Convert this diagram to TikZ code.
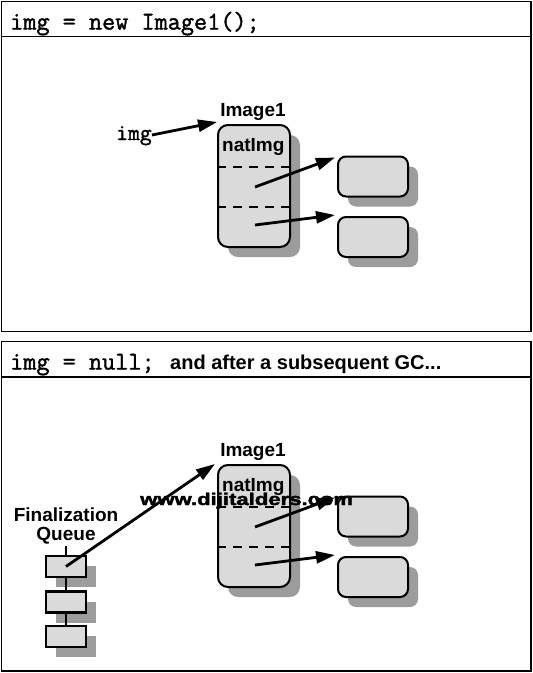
\documentclass[tikz,border=0pt]{standalone}
\usepackage{fontspec}
\setmainfont{Liberation Sans}
\newfontfamily\monof[FakeBold=1.6]{Latin Modern Mono}
\newfontfamily\markf[FakeBold=2]{Liberation Sans Bold}
\usetikzlibrary{arrows.meta,shadows,calc}
\definecolor{boxgray}{HTML}{DADADA}
\definecolor{shadegray}{HTML}{9C9C9C}
\begin{document}
\begin{tikzpicture}[x=1pt,y=-1pt,
  panel/.style={draw=black,line width=1.4pt},
  objbox/.style={draw=black,line width=2pt,fill=boxgray,rounded corners=10pt,
    drop shadow={shadow xshift=10pt,shadow yshift=-10pt,fill=shadegray,opacity=1}},
  smallbox/.style={objbox,rounded corners=8pt,minimum width=70pt,minimum height=40pt},
  qbox/.style={draw=black,line width=2.6pt,fill=boxgray,minimum width=40pt,minimum height=21pt,
    drop shadow={shadow xshift=10pt,shadow yshift=-10pt,fill=shadegray,opacity=1}},
  ptr/.style={line width=2.8pt,-{Triangle[length=19pt,width=12pt]}},
  divider/.style={line width=1.6pt,dash pattern=on 9pt off 7pt},
  codetxt/.style={font=\monof\fontsize{25.5}{27}\selectfont,inner sep=0pt,anchor=base west},
  lbl/.style={font=\bfseries\fontsize{19}{21}\selectfont,inner sep=0pt}
]
\useasboundingbox (0,0) rectangle (533,673);
% ---------- panel 1 ----------
\draw[panel] (1.5,1.5) rectangle (531,331.5);
\draw[panel] (1.5,36.5) -- (531,36.5);
\node[codetxt] (h1) at (10,29.5) {img = new Image1();};

\node[objbox,minimum width=72pt,minimum height=122pt] (obj1) at (254,186) {};
\node[smallbox] (b1) at (373,176.5) {};
\node[smallbox] (b2) at (373,237) {};
\draw[divider] (obj1.west |- 0,167) -- (obj1.east |- 0,167);
\draw[divider] (obj1.west |- 0,207) -- (obj1.east |- 0,207);
\node[lbl,anchor=base] (t1) at (253,116.5) {Image1};
\node[lbl,anchor=base west] (n1) at (222,151.5) {natImg};
\node[font=\monof\fontsize{23}{24}\selectfont,inner sep=0pt,anchor=base west] (img1) at (116,140) {img};

\coordinate (s1) at (255,187);
\coordinate (s2) at (255,225);
\coordinate (e1) at ($(b1.north west)+(-2,2)$);
\coordinate (e2) at ($(b2.north west)+(-2,-1)$);
\coordinate (ei) at ($(obj1.north west)+(0,-2)$);
\draw[ptr] (s1) -- (e1);
\draw[ptr] (s2) -- (e2);
\draw[ptr] (img1.east |- 0,135) -- (ei);

% ---------- panel 2 ----------
\draw[panel] (1.5,341.5) rectangle (531,671);
\draw[panel] (1.5,377) -- (531,377);
\node[codetxt] (h2) at (10,369.5) {img = null;};
\node[font=\bfseries\fontsize{20}{22}\selectfont,inner sep=0pt,anchor=base west] (h2b) at (170,369.5) {and after a subsequent GC...};

\node[objbox,minimum width=72pt,minimum height=122pt] (obj2) at (254,526) {};
\node[smallbox] (b3) at (373,516.5) {};
\node[smallbox] (b4) at (373,577) {};
\draw[divider] (obj2.west |- 0,507) -- (obj2.east |- 0,507);
\draw[divider] (obj2.west |- 0,547) -- (obj2.east |- 0,547);
\node[lbl,anchor=base] (t2) at (253,456.5) {Image1};
\node[lbl,anchor=base west] (n2) at (222,491.5) {natImg};

\node[qbox] (q1) at (66,566.5) {};
\node[qbox] (q2) at (66,602) {};
\node[qbox] (q3) at (66,636.5) {};
\coordinate (qtop) at (66,546);
\draw[line width=2.6pt] (qtop) -- (q1.north);
\draw[line width=2.6pt] (q1.south) -- (q2.north);
\draw[line width=2.6pt] (q2.south) -- (q3.north);
\node[lbl,anchor=base] (fq) at (66,521.5) {Finalization};
\node[lbl,anchor=base] (fq2) at (66,540.5) {Queue};

\coordinate (s3) at (255,527);
\coordinate (s4) at (255,565);
\coordinate (e3) at ($(b3.north west)+(-2,2)$);
\coordinate (e4) at ($(b4.north west)+(-2,-1)$);
\coordinate (eq) at ($(obj2.north west)+(-2,0)$);
\draw[ptr] (s3) -- (e3);
\draw[ptr] (s4) -- (e4);
\draw[ptr] (q1.center) -- (eq);

\node[font=\markf\fontsize{17}{19}\selectfont,inner sep=0pt,anchor=base west] (wm) at (140,505) {\scalebox{1.3}[1]{www.dijitalders.com}};
\end{tikzpicture}
\end{document}
